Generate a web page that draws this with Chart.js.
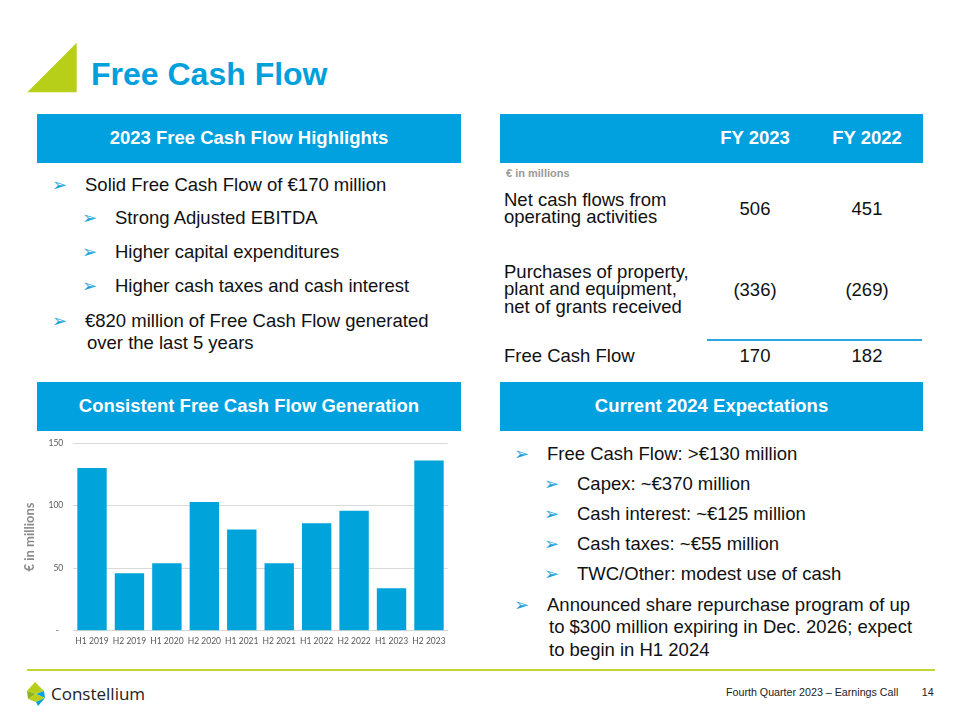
<!DOCTYPE html>
<html>
<head>
<meta charset="utf-8">
<script src="https://cdn.jsdelivr.net/npm/chart.js@4.4.1/dist/chart.umd.min.js"></script>
<style>
    html, body { margin: 0; padding: 0; background: #fff; }
    body { width: 960px; height: 720px; position: relative; overflow: hidden; font-family: "Liberation Sans", Arial, sans-serif; color: #111; }
    .abs { position: absolute; white-space: nowrap; }
    .title { left: 91px; top: 58px; font-size: 32px; line-height: 32px; font-weight: bold; color: #00A0DC; }
    .hdr { position: absolute; background: #00A1DE; color: #fff; font-weight: bold; font-size: 18.5px; line-height: 48px; text-align: center; }
    .txt { position: absolute; font-size: 18.5px; line-height: 22px; white-space: nowrap; }
    .ar { position: absolute; left: -33px; top: 0; font-family: "DejaVu Sans", sans-serif; font-size: 18px; line-height: 22px; color: #1AA3D8; }
    .cell { position: absolute; font-size: 18.5px; line-height: 17.5px; height: 17.5px; white-space: nowrap; }
    .num { text-align: center; width: 110px; }
    #chartBox { position: absolute; left: 20px; top: 428px; width: 440px; height: 230px; }
</style>
</head>
<body>

<!-- title -->
<svg class="abs" style="left:0;top:0" width="100" height="100">
    <polygon points="27.3,92.3 76.7,42.7 76.7,92.3" fill="#B8CF1A"/>
</svg>
<div class="abs title">Free Cash Flow</div>

<!-- section headers -->
<div class="hdr" style="left:37px;top:114px;width:424px;height:49px;">2023 Free Cash Flow Highlights</div>
<div class="hdr" style="left:500px;top:114px;width:423px;height:49px;"></div>
<div class="hdr" style="left:37px;top:382px;width:424px;height:49px;">Consistent Free Cash Flow Generation</div>
<div class="hdr" style="left:500px;top:382px;width:423px;height:49px;">Current 2024 Expectations</div>

<!-- highlights -->
<div class="txt" style="left:85px;top:173.6px;"><span class="ar">➢</span>Solid Free Cash Flow of €170 million</div>
<div class="txt" style="left:115px;top:207px;"><span class="ar">➢</span>Strong Adjusted EBITDA</div>
<div class="txt" style="left:115px;top:241.3px;"><span class="ar">➢</span>Higher capital expenditures</div>
<div class="txt" style="left:115px;top:275.3px;"><span class="ar">➢</span>Higher cash taxes and cash interest</div>
<div class="txt" style="left:85px;top:310px;"><span class="ar">➢</span>€820 million of Free Cash Flow generated</div>
<div class="txt" style="left:87px;top:332px;">over the last 5 years</div>

<!-- table -->
<div class="abs" style="left:500px;top:114px;width:423px;height:49px;color:#fff;font-weight:bold;font-size:18.5px;line-height:48px;">
    <span style="position:absolute;left:200px;width:110px;text-align:center;">FY 2023</span>
    <span style="position:absolute;left:312px;width:110px;text-align:center;">FY 2022</span>
</div>
<div class="abs" style="left:506px;top:166px;font-size:11px;line-height:14px;font-weight:bold;color:#999;">€ in millions</div>

<div class="cell" style="left:504px;top:190.8px;">Net cash flows from</div>
<div class="cell" style="left:504px;top:208.3px;">operating activities</div>
<div class="cell num" style="left:700px;top:199.8px;">506</div>
<div class="cell num" style="left:812px;top:199.8px;">451</div>

<div class="cell" style="left:504px;top:262.5px;">Purchases of property,</div>
<div class="cell" style="left:504px;top:280px;">plant and equipment,</div>
<div class="cell" style="left:504px;top:297.5px;">net of grants received</div>
<div class="cell num" style="left:700px;top:280.8px;">(336)</div>
<div class="cell num" style="left:812px;top:280.8px;">(269)</div>

<div class="abs" style="left:707px;top:338.5px;width:215px;height:2px;background:#2AA8DD;"></div>
<div class="cell" style="left:504px;top:347.1px;">Free Cash Flow</div>
<div class="cell num" style="left:700px;top:347.1px;">170</div>
<div class="cell num" style="left:812px;top:347.1px;">182</div>

<!-- expectations -->
<div class="txt" style="left:547px;top:442.6px;"><span class="ar">➢</span>Free Cash Flow: &gt;€130 million</div>
<div class="txt" style="left:577px;top:472.6px;"><span class="ar">➢</span>Capex: ~€370 million</div>
<div class="txt" style="left:577px;top:502.6px;"><span class="ar">➢</span>Cash interest: ~€125 million</div>
<div class="txt" style="left:577px;top:532.6px;"><span class="ar">➢</span>Cash taxes: ~€55 million</div>
<div class="txt" style="left:577px;top:562.6px;"><span class="ar">➢</span>TWC/Other: modest use of cash</div>
<div class="txt" style="left:547px;top:594.3px;"><span class="ar">➢</span>Announced share repurchase program of up</div>
<div class="txt" style="left:549px;top:616px;">to $300 million expiring in Dec. 2026; expect</div>
<div class="txt" style="left:549px;top:638.6px;">to begin in H1 2024</div>

<!-- chart -->
<div id="chartBox"><canvas id="fcfChart"></canvas></div>

<!-- footer -->
<div class="abs" style="left:27px;top:669px;width:908px;height:2px;background:#C2D630;"></div>
<svg class="abs" style="left:26px;top:682px" width="22" height="26">
    <polygon points="9,0 18,9 10,12 1,9" fill="#B8CF1A"/>
    <polygon points="10,12 18,9 19,16" fill="#00A1DE"/>
    <polygon points="1,9 10,12 2,17" fill="#8FB31A"/>
    <polygon points="2,17 10,12 19,16 10,20" fill="#B8CF1A"/>
    <polygon points="10,20 19,16 12,24" fill="#00A1DE"/>
</svg>
<div class="abs" style="left:51px;top:684.4px;font-family:'Open Sans',sans-serif;font-size:17px;line-height:20px;font-weight:500;color:#222;">Constellium</div>
<div class="abs" style="left:726px;top:686.3px;font-size:10.7px;line-height:12px;color:#222;">Fourth Quarter 2023 – Earnings Call</div>
<div class="abs" style="left:921.7px;top:686.3px;font-size:10.7px;line-height:12px;color:#222;">14</div>

<script>
// half-year free cash flow, € in millions
const periods = ["H1 2019", "H2 2019", "H1 2020", "H2 2020", "H1 2021", "H2 2021", "H1 2022", "H2 2022", "H1 2023", "H2 2023"];
const freeCashFlow = [130, 46, 54, 103, 81, 54, 86, 96, 34, 136];
const yTicks = [0, 50, 100, 150];

const barColor = "#00A3DA";
const tickFont = { family: "Lato", size: 8.5 };

const ctx = document.getElementById("fcfChart").getContext("2d");
new Chart(ctx, {
    type: "bar",
    data: {
        labels: periods,
        datasets: [{
            data: freeCashFlow,
            backgroundColor: barColor,
            borderWidth: 0,
            barPercentage: 0.785,
            categoryPercentage: 1
        }]
    },
    options: {
        responsive: true,
        maintainAspectRatio: false,
        animation: false,
        layout: { padding: { top: 0, right: 12.3, left: 0, bottom: 0 } },
        plugins: {
            legend: { display: false },
            tooltip: { enabled: false }
        },
        scales: {
            x: {
                grid: { display: false, drawTicks: false },
                border: { display: true, color: "#d9d9d9", width: 1 },
                ticks: { color: "#595959", font: tickFont, padding: 5, maxRotation: 0, autoSkip: false },
                afterFit: scale => { scale.height = 27.3; }
            },
            y: {
                min: yTicks[0],
                max: yTicks[yTicks.length - 1],
                grid: { color: "#d9d9d9", drawTicks: false },
                border: { display: false },
                afterBuildTicks: scale => { scale.ticks = yTicks.map(v => ({ value: v })); },
                ticks: {
                    color: "#595959",
                    font: tickFont,
                    padding: 10,
                    callback: v => (v === 0 ? "-  " : v)
                },
                title: {
                    display: true,
                    text: "€ in millions",
                    color: "#8c8c8c",
                    font: { family: "Lato", size: 13, weight: "bold" },
                    padding: { top: 2, bottom: 0 }
                },
                afterFit: scale => { scale.width = 53.3; }
            }
        }
    }
});
</script>
</body>
</html>
